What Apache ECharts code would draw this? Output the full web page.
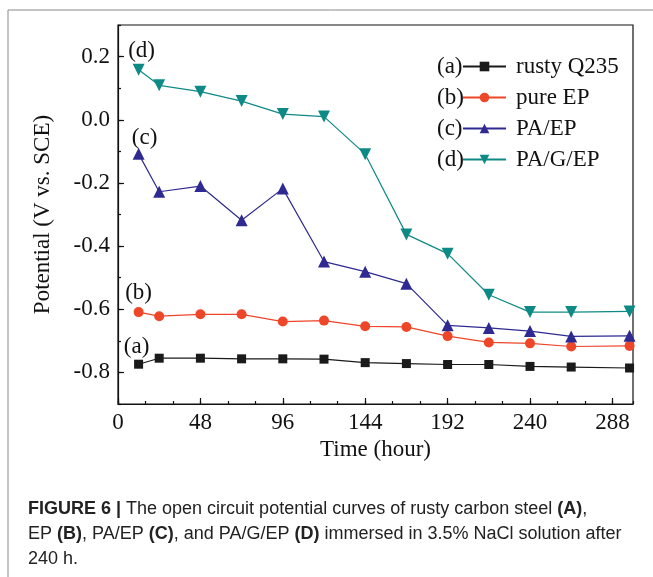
<!DOCTYPE html>
<html>
<head>
<meta charset="utf-8">
<script src="https://cdn.jsdelivr.net/npm/echarts@6/dist/echarts.min.js"></script>
<style>
  html, body { margin: 0; padding: 0; background: #fff; }
  #chart { width: 653px; height: 577px; }
</style>
</head>
<body>
<div id="chart"></div>
<script>
// open circuit potential (V vs. SCE)
const hours = [12, 24, 48, 72, 96, 120, 144, 168, 192, 216, 240, 264, 298];
const rustyQ235 = [-0.774, -0.755, -0.755, -0.757, -0.757, -0.758, -0.769, -0.772, -0.775, -0.775, -0.781, -0.783, -0.786];
const pureEP = [-0.609, -0.622, -0.616, -0.616, -0.639, -0.636, -0.654, -0.656, -0.685, -0.705, -0.708, -0.718, -0.716];
const paEP = [-0.108, -0.228, -0.21, -0.318, -0.218, -0.449, -0.481, -0.519, -0.651, -0.659, -0.669, -0.686, -0.684];
const paGEP = [0.158, 0.109, 0.089, 0.059, 0.018, 0.01, -0.109, -0.363, -0.424, -0.554, -0.609, -0.609, -0.607];
const seriesNames = ['rusty Q235', 'pure EP', 'PA/EP', 'PA/G/EP'];
const seriesTags = ['(a)', '(b)', '(c)', '(d)'];

const serif = '"Liberation Serif", "Times New Roman", serif';
const sans = '"Liberation Sans Narrow", "Liberation Sans", Arial, sans-serif';
const ink = '#111111';

const chart = echarts.init(document.getElementById('chart'));

const makeSeries = (idx, values, color, symbol, size, rotate, labelOffset) => ({
  name: seriesNames[idx],
  type: 'line',
  xAxisIndex: 0,
  yAxisIndex: 0,
  symbol: symbol,
  symbolSize: size,
  symbolRotate: rotate,
  itemStyle: { color: color },
  lineStyle: { color: color, width: 1.2 },
  data: hours.map((h, i) => i === 0
    ? {
        value: [h, values[i]],
        label: {
          show: true,
          formatter: seriesTags[idx],
          position: 'top',
          distance: 2,
          offset: labelOffset,
          color: ink,
          fontFamily: serif,
          fontSize: 23
        }
      }
    : [h, values[i]])
});

const option = {
  animation: false,
  backgroundColor: '#ffffff',
  grid: {
    left: 118,
    right: 20,
    top: 25,
    bottom: 173,
    show: true,
    borderColor: ink,
    borderWidth: 1.2,
    backgroundColor: 'transparent'
  },
  legend: {
    data: seriesNames,
    orient: 'vertical',
    left: 462,
    top: 55,
    padding: 0,
    itemWidth: 43,
    itemHeight: 12,
    itemGap: 8,
    textStyle: {
      fontFamily: serif,
      fontSize: 23,
      color: ink,
      padding: [0, 0, 0, 5]
    }
  },
  xAxis: [
    {
      type: 'value',
      position: 'bottom',
      min: 0,
      max: 300,
      interval: 48,
      name: 'Time (hour)',
      nameLocation: 'middle',
      nameGap: 33,
      nameTextStyle: { fontFamily: serif, fontSize: 23, color: ink },
      axisLine: { onZero: false, lineStyle: { color: ink, width: 1.2 } },
      axisTick: { inside: true, length: 6, lineStyle: { color: ink, width: 1.2 } },
      axisLabel: { showMaxLabel: false, margin: 7, fontFamily: serif, fontSize: 23, color: ink },
      splitLine: { show: false }
    },
    {
      // minor ticks every 16 h
      type: 'value',
      position: 'bottom',
      min: 0,
      max: 300,
      interval: 16,
      axisLine: { show: false, onZero: false },
      axisTick: { inside: true, length: 3, lineStyle: { color: ink, width: 1.2 } },
      axisLabel: { show: false },
      splitLine: { show: false }
    }
  ],
  yAxis: [
    {
      type: 'value',
      position: 'left',
      min: -0.9,
      max: 0.3,
      splitNumber: 6,
      name: 'Potential (V vs. SCE)',
      nameLocation: 'middle',
      nameGap: 64,
      nameTextStyle: { fontFamily: serif, fontSize: 23, color: ink },
      axisLine: { onZero: false, lineStyle: { color: ink, width: 1.2 } },
      axisTick: { inside: true, length: 6, lineStyle: { color: ink, width: 1.2 } },
      axisLabel: {
        showMinLabel: false,
        showMaxLabel: false,
        margin: 8,
        fontFamily: serif,
        fontSize: 23,
        color: ink,
        formatter: (v) => v.toFixed(1)
      },
      splitLine: { show: false }
    },
    {
      // minor ticks every 0.1 V
      type: 'value',
      position: 'left',
      min: -0.9,
      max: 0.3,
      interval: 0.1,
      axisLine: { show: false, onZero: false },
      axisTick: { inside: true, length: 3, lineStyle: { color: ink, width: 1.2 } },
      axisLabel: { show: false },
      splitLine: { show: false }
    }
  ],
  series: [
    makeSeries(0, rustyQ235, '#1a1a1a', 'rect', 9, 0, [-2, 1]),
    makeSeries(1, pureEP, '#ee4629', 'circle', 10, 0, [0, -1]),
    makeSeries(2, paEP, '#2e2a92', 'triangle', 12, 0, [6, 4]),
    makeSeries(3, paGEP, '#0e8a86', 'triangle', 12, 180, [3, 1])
  ],
  graphic: [
    {
      type: 'polyline',
      silent: true,
      shape: { points: [[8, 577], [8, 10], [653, 10]] },
      style: { stroke: '#8a8a8a', lineWidth: 1, fill: null }
    },
    ...seriesTags.map((t, i) => ({
      type: 'text',
      left: 437,
      top: 55 + i * 31,
      style: { text: t, font: '23px "Liberation Serif", serif', fill: ink }
    })),
    {
      type: 'text',
      left: 28,
      top: 497,
      style: {
        text: '{b|FIGURE 6 |} The open circuit potential curves of rusty carbon steel {b|(A)},\n' +
              'EP {b|(B)}, PA/EP {b|(C)}, and PA/G/EP {b|(D)} immersed in 3.5% NaCl solution after\n' +
              '240 h.',
        fontFamily: sans,
        fontSize: 18,
        lineHeight: 25,
        fill: '#222222',
        rich: {
          b: {
            fontFamily: sans,
            fontSize: 18,
            fontWeight: 'bold',
            lineHeight: 25,
            fill: '#222222'
          }
        }
      }
    }
  ]
};

chart.setOption(option);
window.addEventListener('resize', () => chart.resize());
</script>
</body>
</html>
